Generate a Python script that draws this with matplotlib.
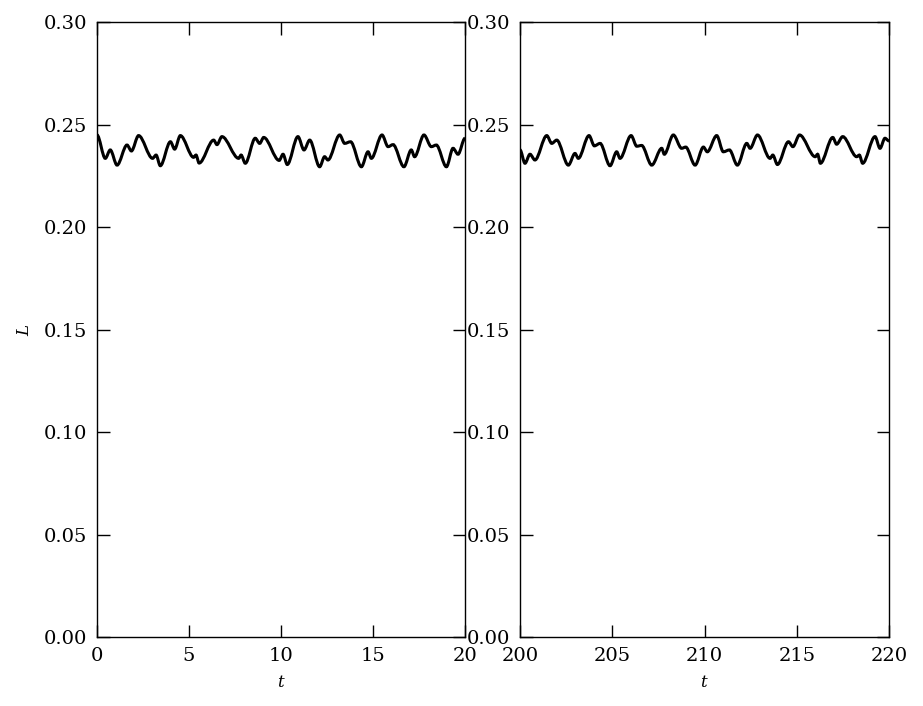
import numpy as np
import matplotlib
matplotlib.use("Agg")
import matplotlib.pyplot as plt
from matplotlib.path import Path
from matplotlib.patches import PathPatch

plt.rcParams["font.family"] = "DejaVu Serif"
plt.rcParams["mathtext.fontset"] = "dejavuserif"

# turning points of L(t)
t_early = [0.00, 0.45, 0.72, 1.09, 1.63, 1.87, 2.26, 3.02, 3.21, 3.44, 3.99, 4.22,
           4.53, 5.25, 5.38, 5.55, 6.34, 6.52, 6.79, 7.70, 7.83, 8.06, 8.60, 8.84,
           9.06, 9.90, 10.11, 10.34, 10.92, 11.25, 11.56, 12.10, 12.37, 12.55, 13.19,
           13.46, 13.78, 14.37, 14.73, 14.91, 15.49, 15.82, 16.09, 16.68, 17.08, 17.26,
           17.77, 18.17, 18.44, 18.99, 19.35, 19.62, 20.00]
L_early = [0.2449, 0.2335, 0.2376, 0.2302, 0.2400, 0.2371, 0.2446, 0.2335, 0.2351,
           0.2299, 0.2416, 0.2380, 0.2446, 0.2340, 0.2351, 0.2312, 0.2424, 0.2402,
           0.2441, 0.2335, 0.2351, 0.2311, 0.2433, 0.2408, 0.2437, 0.2325, 0.2355,
           0.2305, 0.2441, 0.2376, 0.2424, 0.2294, 0.2343, 0.2327, 0.2449, 0.2408,
           0.2416, 0.2294, 0.2367, 0.2335, 0.2449, 0.2392, 0.2402, 0.2294, 0.2376,
           0.2343, 0.2449, 0.2392, 0.2400, 0.2294, 0.2384, 0.2355, 0.2433]

t_late = [200.00, 200.27, 200.54, 200.81, 201.45, 201.72, 201.99, 202.62, 202.98,
          203.16, 203.74, 204.03, 204.34, 204.88, 205.24, 205.42, 206.02, 206.33,
          206.59, 207.14, 207.68, 207.82, 208.31, 208.76, 208.98, 209.49, 209.94,
          210.15, 210.66, 211.02, 211.35, 211.78, 212.29, 212.47, 212.87, 213.55,
          213.70, 213.95, 214.55, 214.79, 215.15, 216.00, 216.13, 216.28, 216.95,
          217.16, 217.49, 218.25, 218.39, 218.57, 219.24, 219.51, 219.78, 220.00]
L_late = [0.2376, 0.2311, 0.2355, 0.2327, 0.2446, 0.2408, 0.2424, 0.2302, 0.2359,
          0.2335, 0.2446, 0.2396, 0.2408, 0.2299, 0.2367, 0.2335, 0.2446, 0.2394,
          0.2398, 0.2302, 0.2384, 0.2355, 0.2449, 0.2384, 0.2390, 0.2302, 0.2390,
          0.2367, 0.2446, 0.2367, 0.2376, 0.2302, 0.2408, 0.2384, 0.2449, 0.2335,
          0.2351, 0.2305, 0.2416, 0.2392, 0.2449, 0.2343, 0.2355, 0.2311, 0.2437,
          0.2404, 0.2441, 0.2343, 0.2351, 0.2311, 0.2441, 0.2384, 0.2433, 0.2420]

panels = [(t_early, L_early, (0, 20), [0, 5, 10, 15, 20]),
          (t_late, L_late, (200, 220), [200, 205, 210, 215, 220])]
y_ticks = [0.00, 0.05, 0.10, 0.15, 0.20, 0.25, 0.30]


def smooth_path(t, L):
    # cubic bezier between turning points, flat tangent at each one
    verts = [(t[0], L[0])]
    codes = [Path.MOVETO]
    for i in range(len(t) - 1):
        dt = t[i + 1] - t[i]
        verts += [(t[i] + dt / 3, L[i]), (t[i + 1] - dt / 3, L[i + 1]), (t[i + 1], L[i + 1])]
        codes += [Path.CURVE4] * 3
    return Path(verts, codes)


fig = plt.figure(figsize=(9.23, 7.06), dpi=100)
boxes = [[0.1051, 0.0977, 0.3987, 0.8711], [0.5634, 0.0977, 0.3998, 0.8711]]

for k, (t, L, xlim, xt) in enumerate(panels):
    ax = fig.add_axes(boxes[k])
    ax.add_patch(PathPatch(smooth_path(t, L), fill=False, edgecolor="black", lw=2.2))
    ax.set_xlim(*xlim)
    ax.set_ylim(0, 0.30)
    ax.set_xticks(xt)
    ax.set_yticks(y_ticks)
    ax.set_yticklabels(["%.2f" % v for v in y_ticks])
    ax.tick_params(direction="in", top=True, right=True, length=9, width=1.0,
                   labelsize=14, pad=7)
    for s in ax.spines.values():
        s.set_linewidth(1.0)
    ax.set_xlabel("$t$", fontsize=12, labelpad=7)
    if k == 0:
        ax.set_ylabel("$L$", fontsize=12, labelpad=8)

fig.savefig("out.png", dpi=100)
